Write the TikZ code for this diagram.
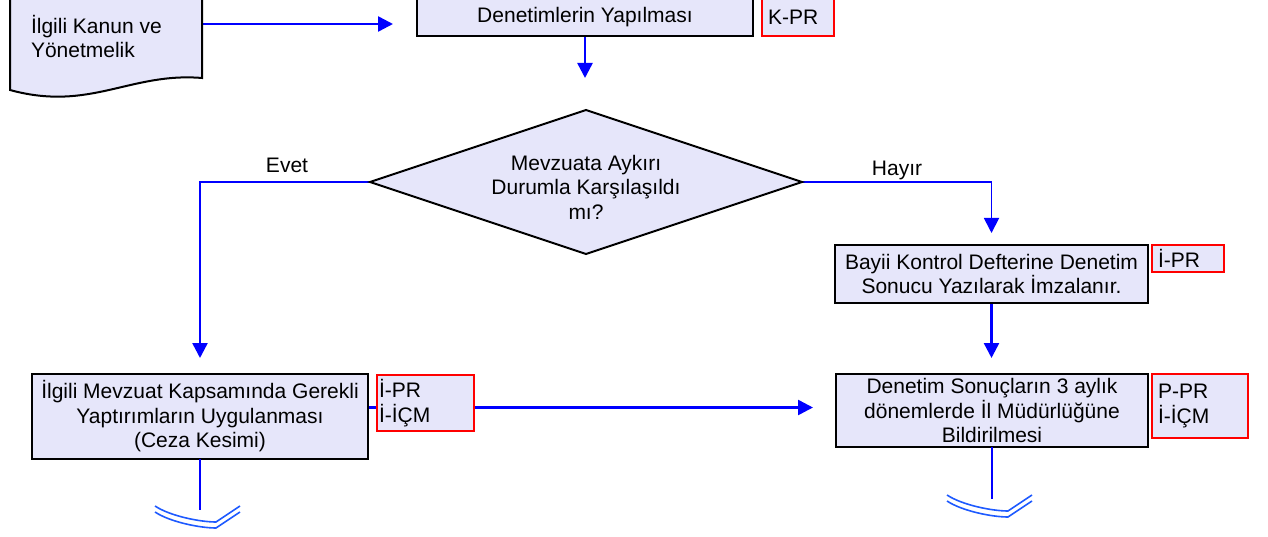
\documentclass[tikz,border=0pt]{standalone}
\usepackage{fontspec}
\setmainfont{Liberation Sans}
\usetikzlibrary{shapes.geometric,arrows.meta,backgrounds}
\definecolor{lav}{RGB}{230,230,250}
\definecolor{arcblue}{RGB}{30,90,255}
\begin{document}
\begin{tikzpicture}[x=1pt,y=-1pt,
  every node/.style={font=\fontsize{21}{24.5}\selectfont, inner sep=0pt, outer sep=0pt},
  box/.style={draw=black, line width=2pt, fill=lav, align=center},
  tag/.style={draw=red, line width=1.8pt, fill=lav, align=left, anchor=north west, inner xsep=6pt},
  flow/.style={draw=blue, line width=2.5pt, -{Triangle[width=15pt,length=15pt]}},
  plainline/.style={draw=blue, line width=2pt},
  offpage/.style={draw=arcblue, line width=1.6pt},
  offarc/.pic={
    \draw[offpage] (-45,-4) .. controls (-30,6) and (0,12) .. (16,12) -- (40,-4);
    \draw[offpage] (-45,2) .. controls (-30,12) and (0,18) .. (16,18) -- (40,2);
  }]
\useasboundingbox (0,0) rectangle (1268,537);

% document shape
\draw[line width=2pt, fill=lav] (10,-2) -- (202,-2) -- (202,78)
  .. controls (130,72) and (90,112) .. (10,90) -- cycle;
\node[anchor=west, align=left] (doctext) at (31,36.5) {İlgili Kanun ve\\Yönetmelik};
\coordinate (docout) at (202,24);

% top process
\node[box, minimum width=336pt, minimum height=38pt] (yap) at (585,17) {Denetimlerin Yapılması};
\node[tag, minimum height=38pt, text width=60pt] (kpr) at (762,-2) {K-PR};

% decision
\node[draw=black, line width=2pt, fill=lav, diamond, minimum width=432pt, minimum height=144pt] (dec) at (586,182) {};
\node[align=center] (dectext) at (586,187) {Mevzuata Aykırı\\Durumla Karşılaşıldı\\mı?};
\node (evet) at (287,165) {Evet};
\node (hayir) at (897,170) {Hayır};

% right branch
\node[box, minimum width=313pt, minimum height=58pt] (bayii) at (991.5,274) {Bayii Kontrol Defterine Denetim\\Sonucu Yazılarak İmzalanır.};
\node[tag, minimum height=27pt, text width=60pt] (ipr1) at (1152,245) {İ-PR};

% bottom row
\node[box, minimum width=336pt, minimum height=85pt] (yapt) at (200,416.5) {İlgili Mevzuat Kapsamında Gerekli\\Yaptırımların Uygulanması\\(Ceza Kesimi)};
\node[tag, inner xsep=2pt, minimum height=56pt, text width=93pt] (ipr2) at (377,375) {İ-PR\\İ-İÇM};

\node[box, minimum width=312pt, minimum height=73pt] (bild) at (992,410.5) {Denetim Sonuçların 3 aylık\\dönemlerde İl Müdürlüğüne\\Bildirilmesi};
\node[tag, minimum height=64pt, text width=84pt] (ppr) at (1152,374) {P-PR\\İ-İÇM};

\coordinate (lout) at ([yshift=9pt]yapt.east);

\begin{scope}[on background layer]
\draw[flow, shorten >=24pt] (docout) -- (docout -| yap.west);
\draw[flow, shorten >=32pt] (yap.south) -- (yap.south |- dec.north);
\draw[flow, shorten >=16pt] (dec.west) -| (yapt.north);
\draw[flow, line width=1.8pt, shorten >=12pt] (dec.east) -| (bayii.north);
\draw[flow, shorten >=16pt] (bayii.south) -- (bayii.south |- bild.north);
\draw[flow, shorten >=23pt] (lout) -- (lout -| bild.west);
\end{scope}

% off-page connectors
\draw[plainline] (yapt.south) -- ++(0,51) coordinate (offL);
\draw[plainline] (bild.south) -- ++(0,52) coordinate (offR);
\pic at (offL) {offarc};
\pic at (offR) {offarc};
\end{tikzpicture}
\end{document}
